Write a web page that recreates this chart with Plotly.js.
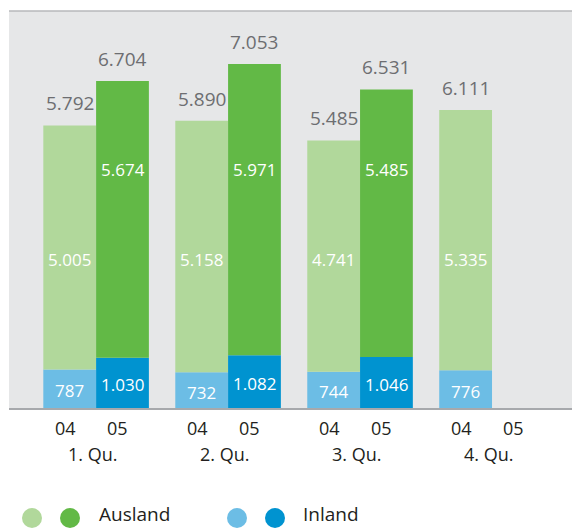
<!DOCTYPE html>
<html>
<head>
<meta charset="utf-8">
<script src="https://cdn.plot.ly/plotly-3.0.1.min.js"></script>
<style>html,body{margin:0;padding:0;background:#fff;}#chart{width:572px;height:529px;}</style>
</head>
<body>
<div id="chart"></div>
<script>
const quarters = ['1. Qu.', '2. Qu.', '3. Qu.', '4. Qu.'];
const inland04 = [787, 732, 744, 776];
const ausland04 = [5005, 5158, 4741, 5335];
const inland05 = [1030, 1082, 1046, null];
const ausland05 = [5674, 5971, 5485, null];
const yearLabels = ['04', '05'];
const legendLabels = ['Ausland', 'Inland'];

const C = {
  ausLight: '#b1d89b', ausDark: '#62b946',
  inLight: '#6cbde5', inDark: '#0093d0',
  bg: '#e6e7e8', total: '#6d6e71', tick: '#231f20'
};
const FONT = '"Open Sans", "Noto Sans", sans-serif';
const fmt = n => String(n).replace(/\B(?=(\d{3})+(?!\d))/g, '.');
const OFF = 26.4;

const traces = [
  {type: 'bar', x: quarters, y: inland04, offsetgroup: '04', marker: {color: C.inLight}, name: 'Inland 04'},
  {type: 'bar', x: quarters, y: ausland04, base: inland04, offsetgroup: '04', marker: {color: C.ausLight}, name: 'Ausland 04'},
  {type: 'bar', x: quarters, y: inland05, offsetgroup: '05', marker: {color: C.inDark}, name: 'Inland 05'},
  {type: 'bar', x: quarters, y: ausland05, base: inland05, offsetgroup: '05', marker: {color: C.ausDark}, name: 'Ausland 05'}
];

const ann = [];
const series = [[inland04, ausland04, -OFF, 0.3728], [inland05, ausland05, OFF, 0.5995]];
series.forEach(([inl, aus, dx, ausY]) => {
  quarters.forEach((q, i) => {
    if (inl[i] == null) return;
    const tot = inl[i] + aus[i];
    ann.push({x: q, y: tot, xref: 'x', yref: 'y', xshift: dx, yshift: 7, yanchor: 'bottom',
      text: fmt(tot), showarrow: false, font: {family: FONT, size: 19, color: C.total}});
    ann.push({x: q, y: ausY, xref: 'x', yref: 'paper', xshift: dx, yanchor: 'middle',
      text: fmt(aus[i]), showarrow: false, font: {family: FONT, size: 17, color: '#ffffff'}});
    ann.push({x: q, y: inl[i] / 2, xref: 'x', yref: 'y', xshift: dx, yshift: -2, yanchor: 'middle',
      text: fmt(inl[i]), showarrow: false, font: {family: FONT, size: 17, color: '#ffffff'}});
  });
});
quarters.forEach(q => {
  ann.push({x: q, y: 0, xref: 'x', yref: 'paper', xshift: -31, yshift: -20, yanchor: 'middle',
    text: yearLabels[0], showarrow: false, font: {family: FONT, size: 18, color: C.tick}});
  ann.push({x: q, y: 0, xref: 'x', yref: 'paper', xshift: 21, yshift: -20, yanchor: 'middle',
    text: yearLabels[1], showarrow: false, font: {family: FONT, size: 18, color: C.tick}});
  ann.push({x: q, y: 0, xref: 'x', yref: 'paper', xshift: -4, yshift: -46, yanchor: 'middle',
    text: q, showarrow: false, font: {family: FONT, size: 18, color: C.tick}});
});

// legend
const legY = (408 - 518) / 397;
const legTextY = (408 - 528) / 397;
const px = p => (p - 9) / 563;
const legItems = [
  {cx: [32, 70], cols: [C.ausLight, C.ausDark], tx: 98, label: legendLabels[0]},
  {cx: [237, 275], cols: [C.inLight, C.inDark], tx: 302, label: legendLabels[1]}
];
const shapes = [
  {type: 'line', xref: 'paper', yref: 'paper', x0: 0, x1: 1, y0: 1, y1: 1, line: {color: '#b7b9bb', width: 1.5}}
];
legItems.forEach(it => {
  it.cx.forEach((c, k) => {
    shapes.push({type: 'circle', xref: 'paper', yref: 'paper', xsizemode: 'pixel', ysizemode: 'pixel',
      xanchor: px(c), yanchor: legY, x0: -10, x1: 10, y0: -10, y1: 10,
      fillcolor: it.cols[k], line: {width: 0}});
  });
  ann.push({x: px(it.tx), y: legTextY, xref: 'paper', yref: 'paper', xanchor: 'left', yanchor: 'bottom',
    borderpad: 0, text: it.label, showarrow: false, font: {family: FONT, size: 19, color: C.tick}});
});

const layout = {
  width: 572, height: 529,
  margin: {l: 9, r: 0, t: 11, b: 121},
  paper_bgcolor: '#ffffff', plot_bgcolor: C.bg,
  barmode: 'group', bargap: 0.2, bargroupgap: 0,
  showlegend: false,
  xaxis: {type: 'category', range: [-0.66, 3.606], showticklabels: false, ticks: '', showgrid: false,
    zeroline: false, showline: true, linecolor: '#a7a9ac', linewidth: 1.5, fixedrange: true},
  yaxis: {range: [0, 8139], showticklabels: false, showgrid: false, zeroline: false, ticks: '', fixedrange: true},
  annotations: ann,
  shapes: shapes,
  font: {family: FONT}
};

Plotly.newPlot('chart', traces, layout, {displayModeBar: false, staticPlot: true});
</script>
</body>
</html>
